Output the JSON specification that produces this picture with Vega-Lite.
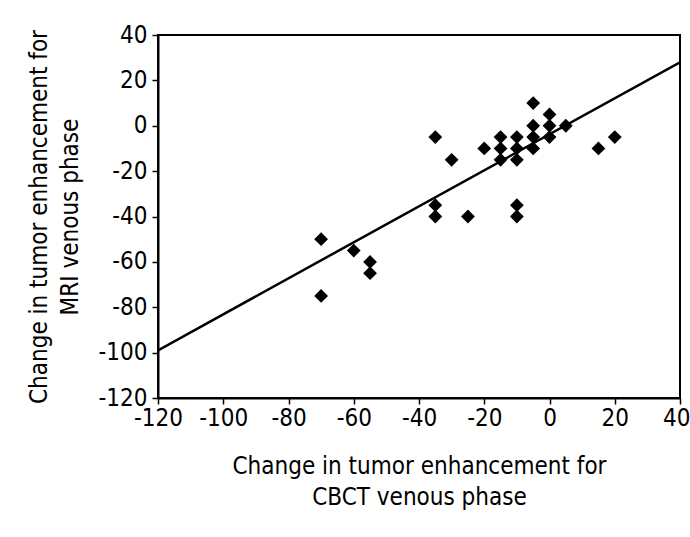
{
  "$schema": "https://vega.github.io/schema/vega-lite/v6.json",
  "autosize": {"type": "none"},
  "padding": {"left": 158, "top": 35, "right": 10, "bottom": 139},
  "width": 522,
  "height": 363,
  "background": "white",
  "config": {
    "view": {"stroke": "black", "strokeWidth": 2},
    "font": "DejaVu Sans Condensed",
    "axis": {
      "grid": false,
      "domainColor": "black",
      "domainWidth": 2,
      "tickColor": "black",
      "tickWidth": 1.5,
      "tickSize": 6,
      "labelFont": "DejaVu Sans Condensed",
      "labelFontSize": 24,
      "labelColor": "black",
      "titleFont": "DejaVu Sans Condensed",
      "titleFontSize": 24,
      "titleFontWeight": "normal",
      "titleColor": "black",
      "titleLineHeight": 31
    }
  },
  "datasets": {
    "points": [
      {"cbct": -70, "mri": -50}, {"cbct": -70, "mri": -75}, {"cbct": -60, "mri": -55},
      {"cbct": -55, "mri": -60}, {"cbct": -55, "mri": -65},
      {"cbct": -35, "mri": -5}, {"cbct": -35, "mri": -35}, {"cbct": -35, "mri": -40},
      {"cbct": -30, "mri": -15}, {"cbct": -25, "mri": -40},
      {"cbct": -20, "mri": -10}, {"cbct": -15, "mri": -5}, {"cbct": -15, "mri": -10},
      {"cbct": -15, "mri": -15}, {"cbct": -10, "mri": -5}, {"cbct": -10, "mri": -10},
      {"cbct": -10, "mri": -15}, {"cbct": -10, "mri": -35}, {"cbct": -10, "mri": -40},
      {"cbct": -5, "mri": 10}, {"cbct": -5, "mri": 0}, {"cbct": -5, "mri": -5},
      {"cbct": -5, "mri": -10}, {"cbct": 0, "mri": 5}, {"cbct": 0, "mri": 0},
      {"cbct": 0, "mri": -5}, {"cbct": 5, "mri": 0}, {"cbct": 15, "mri": -10},
      {"cbct": 20, "mri": -5}
    ],
    "fit": [
      {"cbct": -120, "mri": -99},
      {"cbct": 40, "mri": 28}
    ]
  },
  "layer": [
    {
      "data": {"name": "fit"},
      "mark": {"type": "line", "color": "black", "strokeWidth": 2.5, "clip": true},
      "encoding": {
        "x": {"field": "cbct", "type": "quantitative", "scale": {"domain": [-120, 40], "nice": false, "zero": false},
          "axis": {"values": [-120, -100, -80, -60, -40, -20, 0, 20, 40], "labelExpr": "toString(datum.value)",
            "labelAlign": {"expr": "datum.value == 40 ? 'right' : 'center'"},
            "labelOffset": {"expr": "datum.value == 40 ? 10 : 0"},
            "title": ["Change in tumor enhancement for", "CBCT venous phase"], "titlePadding": 24, "labelPadding": 2, "labelFlush": false}},
        "y": {"field": "mri", "type": "quantitative", "scale": {"domain": [-120, 40], "nice": false, "zero": false},
          "axis": {"values": [-120, -100, -80, -60, -40, -20, 0, 20, 40], "labelExpr": "toString(datum.value)", "title": ["Change in tumor enhancement for", "MRI venous phase"], "titlePadding": 16, "labelPadding": 5, "labelFlush": false}}
      }
    },
    {
      "data": {"name": "points"},
      "mark": {"type": "point", "shape": "diamond", "filled": true, "color": "black", "size": 190, "opacity": 1},
      "encoding": {
        "x": {"field": "cbct", "type": "quantitative"},
        "y": {"field": "mri", "type": "quantitative"}
      }
    }
  ]
}
